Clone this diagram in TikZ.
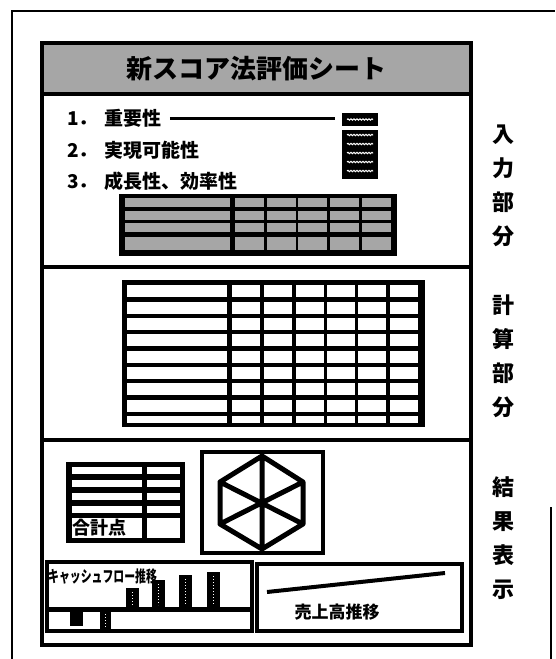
\documentclass[tikz,border=0pt]{standalone}
\usepackage{fontspec}
\newfontfamily\jp{Noto Sans CJK JP}
\usetikzlibrary{decorations.pathmorphing}

\begin{document}
\begin{tikzpicture}[x=1pt, y=-1pt,
			sheet/.style={line width=3.5pt},
			shade/.style={fill=black!35},
			bar/.style={fill=black},
			wave/.style={white, line width=1pt, decorate, decoration={snake, amplitude=.7pt, segment length=3pt}},
			dots/.style={white, line width=1pt, dotted},
			item/.style={font=\jp\bfseries\fontsize{19}{19}\selectfont, inner sep=0pt, anchor=west},
			side/.style={font=\jp\bfseries\fontsize{22}{34}\selectfont, inner sep=0pt, align=center}]
			\useasboundingbox (0,0) rectangle (555,659);
			% frame of the page
			\draw[line width=2pt] (12,659) -- (12,11) -- (555,11);
			\draw[line width=2pt] (551,507) -- (551,659);
			% the sheet
			\draw[sheet, shade] (42,43) rectangle (471,94);
			\draw[sheet] (42,43) rectangle (471,645);
			\draw[sheet] (42,267) -- (471,267);
			\draw[sheet] (42,440) -- (471,440);
			\node (title) at (256,69) [font=\jp\bfseries\fontsize{26}{26}\selectfont] {新スコア法評価シート};
			% input part
			\node (imp) at (67,118) [item] {1．\hspace{7pt}重要性};
			\node (feas) at (67,150) [item] {2．\hspace{7pt}実現可能性};
			\node (grow) at (67,181) [item] {3．\hspace{7pt}成長性、効率性};
			\node (keyA) at (360,119.5) [fill=black, minimum width=36pt, minimum height=13pt, inner sep=0pt] {};
			\node (keyB) at (360,154.5) [fill=black, minimum width=36pt, minimum height=49pt, inner sep=0pt] {};
			\draw[line width=3pt, shorten <=8pt, shorten >=7pt] (imp.east) -- (imp.east -| keyA.west);
			\draw[wave] (347,119.5) -- (373,119.5);
			\foreach \y in {135,144,153,162,171}
				\draw[wave] (347,\y) -- (373,\y);
			\fill (119,194) rectangle (397,256);
			\foreach \y/\h in {198/9, 211/8.5, 223/9, 237/13} {
				\fill[shade] (125,\y) rectangle (230,{\y+\h});
				\foreach \x in {235,267,298,330,362}
					\fill[shade] (\x,\y) rectangle ({\x+29},{\y+\h});
			}
			% calculation part
			\fill (122,280) rectangle (425,427);
			\foreach \y/\h in {285/12, 301.5/12, 318/12, 334/12, 350.5/12, 367/12, 383/12, 399.5/12, 416/6.5} {
				\fill[white] (127,\y) rectangle (227,{\y+\h});
				\foreach \x in {232,264,296,327,358,390}
					\fill[white] (\x,\y) rectangle ({\x+28},{\y+\h});
			}
			% result part
			\fill (66,462) rectangle (185,543);
			\foreach \y in {467,480,493,506} {
				\fill[white] (72,\y) rectangle (142,{\y+7});
				\fill[white] (147,\y) rectangle (180,{\y+7});
			}
			\fill[white] (72,518) rectangle (142,538);
			\fill[white] (147,518) rectangle (180,538);
			\node (total) at (72,528) [item, font=\jp\bfseries\fontsize{18}{18}\selectfont] {合計点};
			\draw[line width=4pt] (202,452) rectangle (323,553);
			\coordinate (hexT) at (262,456);
			\coordinate (hexTR) at (303,482);
			\coordinate (hexBR) at (303,524);
			\coordinate (hexB) at (262,549);
			\coordinate (hexBL) at (220,524);
			\coordinate (hexTL) at (220,482);
			\draw[line width=5pt, line join=round, line cap=round] (hexT) -- (hexTR) -- (hexBR) -- (hexB) -- (hexBL) -- (hexTL) -- cycle
				(hexT) -- (hexB) (hexTL) -- (hexBR) (hexTR) -- (hexBL);
			% cash flow chart
			\draw[line width=4pt] (47,562) rectangle (252,631);
			\fill (47,607) rectangle (252,612);
			\fill (70,607) rectangle (83,626);
			\fill (100,607) rectangle (111,629);
			\draw[dots] (105.5,614) -- (105.5,627);
			\foreach \x/\t in {126/588, 152/580, 179/575, 207/572} {
				\fill[bar] (\x,\t) rectangle ({\x+13},607);
				\draw[dots] ({\x+6.5},{\t+4}) -- ({\x+6.5},605);
			}
			\node (cash) at (48,577) [item, font=\jp\bfseries\fontsize{16}{16}\selectfont] {\scalebox{.68}[1]{キャッシュフロー推移}};
			% sales chart
			\draw[line width=4pt] (257,564) rectangle (462,631);
			\coordinate (salesA) at (267,592);
			\coordinate (salesB) at (445,573);
			\draw[line width=4pt] (salesA) -- (salesB);
			\node (sales) at (337,612) [font=\jp\bfseries\fontsize{17}{17}\selectfont] {売上高推移};
			% labels of the three parts
			\node (inpart) at (503,186) [side] {入\\力\\部\\分};
			\node (calcpart) at (503,356) [side] {計\\算\\部\\分};
			\node (respart) at (503,538) [side] {結\\果\\表\\示};
		\end{tikzpicture}
\end{document}
